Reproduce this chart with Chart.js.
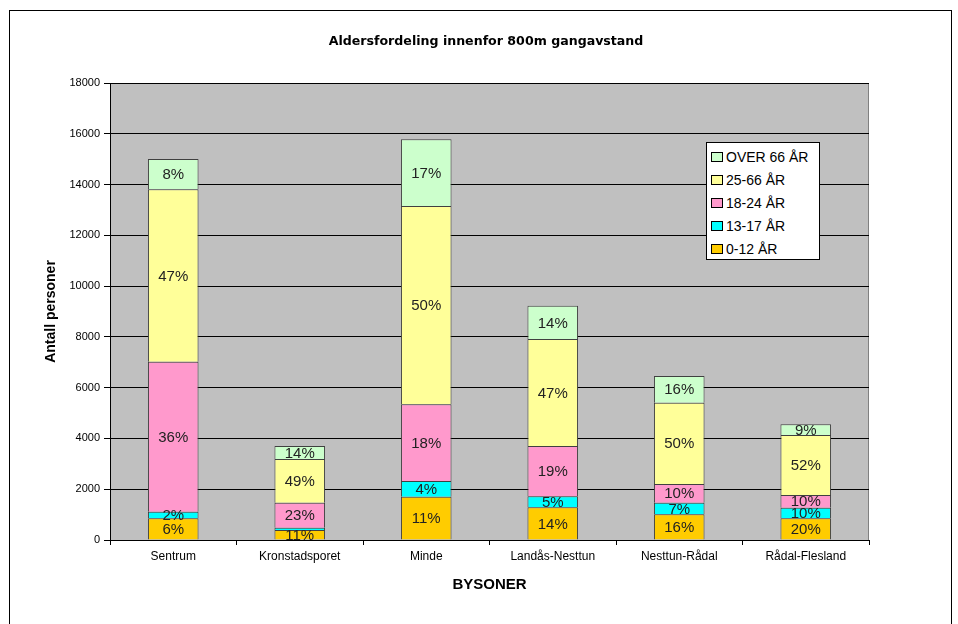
<!DOCTYPE html>
<html>
<head>
<meta charset="utf-8">
<script src="https://cdn.jsdelivr.net/npm/chart.js@4.4.1/dist/chart.umd.min.js"></script>
<style>
  html, body { margin: 0; padding: 0; background: #fff; overflow: hidden; }
  #wrap { position: relative; width: 958px; height: 624px; }
  #frame { position: absolute; left: 9px; top: 10px; width: 943px; height: 700px; border: 1px solid #000; box-sizing: border-box; pointer-events: none; }
  #legend { position: absolute; left: 706px; top: 142px; width: 114px; height: 118px; background: #fff; border: 1px solid #000; box-sizing: border-box; font: 14px "Liberation Sans", Arial, sans-serif; color: #000; padding-top: 2px; }
  #legend .item { height: 23px; display: flex; align-items: center; padding-left: 4px; white-space: nowrap; }
  #legend .sw { width: 12px; height: 10px; border: 1px solid #000; margin-right: 3px; box-sizing: border-box; flex: none; }
</style>
</head>
<body>
<div id="wrap">
  <canvas id="chart" width="958" height="624"></canvas>
  <div id="frame"></div>
  <div id="legend"></div>
</div>
<script>
// data
const bysoner = ["Sentrum", "Kronstadsporet", "Minde", "Landås-Nesttun", "Nesttun-Rådal", "Rådal-Flesland"];
const ar0_12 = [855, 394, 1706, 1287, 1011, 854];
const ar13_17 = [260, 90, 618, 433, 459, 419];
const ar18_24 = [5907, 985, 3020, 1982, 736, 499];
const ar25_66 = [6790, 1720, 7811, 4214, 3203, 2363];
const over66 = [1194, 510, 2626, 1312, 1050, 421];

const pct0_12 = ["6%", "11%", "11%", "14%", "16%", "20%"];
const pct13_17 = ["2%", "", "4%", "5%", "7%", "10%"];
const pct18_24 = ["36%", "23%", "18%", "19%", "10%", "10%"];
const pct25_66 = ["47%", "49%", "50%", "47%", "50%", "52%"];
const pctOver66 = ["8%", "14%", "17%", "14%", "16%", "9%"];

const yTicks = [0, 2000, 4000, 6000, 8000, 10000, 12000, 14000, 16000, 18000];

const series = [
  { label: "0-12 ÅR", data: ar0_12, pct: pct0_12, color: "#FFCC00" },
  { label: "13-17 ÅR", data: ar13_17, pct: pct13_17, color: "#00FFFF" },
  { label: "18-24 ÅR", data: ar18_24, pct: pct18_24, color: "#FF99CC" },
  { label: "25-66 ÅR", data: ar25_66, pct: pct25_66, color: "#FFFF99" },
  { label: "OVER 66 ÅR", data: over66, pct: pctOver66, color: "#CCFFCC" }
];

const FONT = '"Liberation Sans", Arial, sans-serif';
const TITLE = "Aldersfordeling innenfor 800m gangavstand";

// grå bakgrunn i plotteområdet + tittel
const plotBg = {
  id: "plotBg",
  beforeDraw(chart) {
    const { ctx, chartArea: a } = chart;
    ctx.save();
    ctx.fillStyle = "#C0C0C0";
    ctx.fillRect(a.left, a.top, a.right - a.left, a.bottom - a.top);
    ctx.strokeStyle = "#808080";
    ctx.lineWidth = 1;
    ctx.strokeRect(a.left + 0.5, a.top + 0.5, a.right - a.left - 1, a.bottom - a.top);

    ctx.fillStyle = "#000";
    ctx.font = 'bold 12.6px "DejaVu Sans", sans-serif';
    ctx.textAlign = "center";
    ctx.textBaseline = "middle";
    ctx.fillText(TITLE, 486, 42);
    ctx.restore();
  }
};

// prosent-etiketter midt i hvert segment
const pctLabels = {
  id: "pctLabels",
  afterDatasetsDraw(chart) {
    const { ctx } = chart;
    ctx.save();
    ctx.font = "15px " + FONT;
    ctx.fillStyle = "#222";
    ctx.textAlign = "center";
    ctx.textBaseline = "middle";
    chart.data.datasets.forEach((ds, i) => {
      const meta = chart.getDatasetMeta(i);
      meta.data.forEach((bar, j) => {
        const txt = ds.pct[j];
        if (!txt) return;
        const { x, y, base } = bar.getProps(["x", "y", "base"], true);
        ctx.fillText(txt, x, (y + base) / 2 + 1);
      });
    });
    ctx.restore();
  }
};

new Chart(document.getElementById("chart"), {
  type: "bar",
  data: {
    labels: bysoner,
    datasets: series.map(s => ({
      label: s.label,
      data: s.data,
      pct: s.pct,
      backgroundColor: s.color,
      borderColor: "#404040",
      borderWidth: 1,
      barPercentage: 0.4,
      categoryPercentage: 1
    }))
  },
  options: {
    responsive: false,
    animation: false,
    layout: { padding: { left: 0, right: 89, top: 83, bottom: 0 } },
    plugins: {
      legend: { display: false },
      tooltip: { enabled: false },
      title: { display: false }
    },
    scales: {
      x: {
        stacked: true,
        grid: { drawOnChartArea: false, drawTicks: true, tickLength: 5, color: "#000", offset: true },
        border: { color: "#000" },
        ticks: { color: "#000", font: { family: FONT, size: 12 }, padding: 4, maxRotation: 0, autoSkip: false },
        title: {
          display: true,
          text: "BYSONER",
          color: "#000",
          font: { family: FONT, size: 15, weight: "bold" },
          padding: { top: 0, bottom: 30 }
        },
        afterFit(scale) { scale.height = 84; }
      },
      y: {
        stacked: true,
        min: 0,
        max: 18000,
        afterBuildTicks(scale) { scale.ticks = yTicks.map(v => ({ value: v })); },
        grid: { color: "#000", tickLength: 6, drawTicks: true },
        border: { color: "#000" },
        ticks: { color: "#000", font: { family: FONT, size: 11 }, padding: 4, callback: v => String(v) },
        title: {
          display: true,
          text: "Antall personer",
          color: "#000",
          font: { family: FONT, size: 14, weight: "bold" },
          padding: { top: 43, bottom: 0 }
        },
        afterFit(scale) { scale.width = 110; }
      }
    }
  },
  plugins: [plotBg, pctLabels]
});

// legende, samme rekkefølge som originalen (eldste øverst)
const legend = document.getElementById("legend");
series.slice().reverse().forEach(s => {
  const item = document.createElement("div");
  item.className = "item";
  item.innerHTML = `<span class="sw" style="background:${s.color}"></span><span>${s.label}</span>`;
  legend.appendChild(item);
});
</script>
</body>
</html>
